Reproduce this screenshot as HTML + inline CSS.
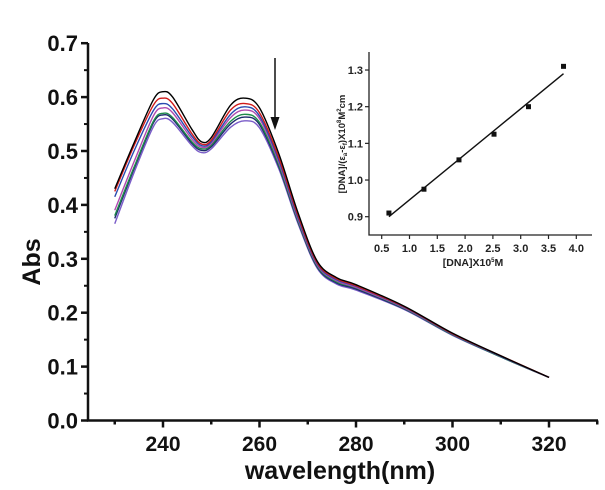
<!DOCTYPE html>
<html><head><meta charset="utf-8"><style>
html,body{margin:0;padding:0;background:#fff;}
svg{display:block;font-family:"Liberation Sans",Arial,sans-serif;}
</style></head><body>
<svg id="chart" width="605" height="490" viewBox="0 0 605 490" xmlns="http://www.w3.org/2000/svg"></svg>
<script>
// ---- main chart data ----
const wavelengths = [230,234,238,240,242,246,248,250,254,257,260,264,268,272,276,280,290,300,310,320];
const seriesBlack  = [0.43,0.515,0.595,0.61,0.6,0.54,0.517,0.525,0.585,0.598,0.58,0.495,0.385,0.295,0.265,0.252,0.212,0.162,0.12,0.08];
const seriesRed    = [0.425,0.51,0.585,0.598,0.588,0.532,0.513,0.52,0.576,0.588,0.571,0.488,0.38,0.292,0.263,0.25,0.211,0.161,0.12,0.08];
const seriesBlue   = [0.415,0.5,0.575,0.588,0.578,0.527,0.51,0.517,0.568,0.582,0.565,0.483,0.376,0.29,0.261,0.249,0.21,0.16,0.119,0.08];
const seriesPink   = [0.39,0.48,0.565,0.58,0.571,0.522,0.507,0.514,0.562,0.576,0.56,0.479,0.373,0.288,0.259,0.247,0.209,0.16,0.119,0.08];
const seriesGreen  = [0.38,0.47,0.555,0.57,0.562,0.517,0.504,0.511,0.555,0.568,0.553,0.474,0.37,0.286,0.257,0.246,0.208,0.159,0.118,0.08];
const seriesNavy   = [0.375,0.467,0.552,0.567,0.559,0.514,0.501,0.508,0.55,0.563,0.549,0.471,0.368,0.284,0.255,0.244,0.207,0.159,0.118,0.08];
const seriesPurple = [0.365,0.46,0.545,0.56,0.553,0.51,0.497,0.504,0.544,0.556,0.543,0.467,0.365,0.282,0.253,0.242,0.206,0.158,0.118,0.08];
const xTicks = [240,260,280,300,320];
const yTicks = [0.0,0.1,0.2,0.3,0.4,0.5,0.6,0.7];
// ---- inset data ----
const insetX = [0.63,1.26,1.89,2.52,3.14,3.77];
const insetY = [0.91,0.975,1.055,1.125,1.2,1.31];
const insetFitX = [0.63,3.77];
const insetFitY = [0.90,1.29];
const insetXTicks = [0.5,1.0,1.5,2.0,2.5,3.0,3.5,4.0];
const insetYTicks = [0.9,1.0,1.1,1.2,1.3];

const NS="http://www.w3.org/2000/svg";
const svg=document.getElementById('chart');
function mk(tag,attrs,parent){const e=document.createElementNS(NS,tag);for(const k in attrs)e.setAttribute(k,attrs[k]);(parent||svg).appendChild(e);return e;}

const xs=l=>163+(l-240)*4.825;
const ys=v=>420.5-v*539;
const X0=88,X1=598,Y0=420.5,Y1=43;

function smooth(pts){let d=`M${pts[0][0]},${pts[0][1]}`;
 for(let i=0;i<pts.length-1;i++){const p0=pts[i-1]||pts[i],p1=pts[i],p2=pts[i+1],p3=pts[i+2]||p2;
  d+=` C${p1[0]+(p2[0]-p0[0])/6},${p1[1]+(p2[1]-p0[1])/6} ${p2[0]-(p3[0]-p1[0])/6},${p2[1]-(p3[1]-p1[1])/6} ${p2[0]},${p2[1]}`;}
 return d;}

// axes
const ax=mk('path',{d:`M${X0},${Y1} V${Y0} H${X1}`,fill:'none',stroke:'#111','stroke-width':2.5});


yTicks.forEach((v,i)=>{
 const y=ys(v);
 const t=mk('line',{x1:X0-7,x2:X0,y1:y,y2:y,stroke:'#111','stroke-width':2.5});
 
 
 if(i<yTicks.length-1){const m=mk('line',{x1:X0-4,x2:X0,y1:ys(v+0.05),y2:ys(v+0.05),stroke:'#111','stroke-width':2});
  
  }
 const lb=mk('text',{x:X0-10,y:y+8,'text-anchor':'end','font-size':22,'font-weight':'bold',fill:'#111'});
 lb.textContent=v.toFixed(1);
 
 
});
for(let l=230;l<=330;l+=10){
 const major=xTicks.includes(l);
 const t=mk('line',{x1:xs(l),x2:xs(l),y1:Y0,y2:Y0+(major?7:4),stroke:'#111','stroke-width':2.5});
 
 
}
xTicks.forEach(l=>{
 const lb=mk('text',{x:xs(l),y:451,'text-anchor':'middle','font-size':21,'font-weight':'bold',fill:'#111'});
 lb.textContent=l;
 
 
});
const xt=mk('text',{x:340,y:479,'text-anchor':'middle','font-size':25,'font-weight':'bold',fill:'#111'});
xt.textContent='wavelength(nm)';


const yt=mk('text',{x:0,y:0,transform:'translate(40,262) rotate(-90)','text-anchor':'middle','font-size':25,'font-weight':'bold',fill:'#111'});
yt.textContent='Abs';



// series
const series=[[seriesPurple,'#7a5cc8','series-violet'],[seriesNavy,'#1a2a6a','series-navy'],[seriesGreen,'#1f8a4a','series-green'],[seriesPink,'#b04ab0','series-magenta'],[seriesBlue,'#2a4ab0','series-blue'],[seriesRed,'#d01a1a','series-red'],[seriesBlack,'#000','series-black']];
series.forEach(([vals,col,name])=>{
 const pts=wavelengths.map((l,i)=>[xs(l),ys(vals[i])]);
 const p=mk('path',{d:smooth(pts),fill:'none',stroke:col,'stroke-width':1.4});
 
 
});

// arrow
const ar=mk('line',{x1:275,y1:58,x2:275,y2:120,stroke:'#111','stroke-width':1.5});


const ah=mk('path',{d:'M270.5,117 L279.5,117 L275,130 Z',fill:'#111'});



// inset
const ix=v=>381.7+(v-0.5)*55.6;
const iy=v=>216.7-(v-0.9)*366.7;
const IX0=369,IX1=592,IY0=235,IY1=52;
const iax=mk('path',{d:`M${IX0},${IY1} V${IY0} H${IX1}`,fill:'none',stroke:'#222','stroke-width':1.3});


insetYTicks.forEach(v=>{
 const t=mk('line',{x1:IX0-4,x2:IX0,y1:iy(v),y2:iy(v),stroke:'#222','stroke-width':1.2});
 
 
 const lb=mk('text',{x:IX0-6,y:iy(v)+4,'text-anchor':'end','font-size':11,'font-weight':'bold',fill:'#222'});
 lb.textContent=v.toFixed(1);
 
 
});
insetXTicks.forEach(v=>{
 const t=mk('line',{x1:ix(v),x2:ix(v),y1:IY0,y2:IY0+4,stroke:'#222','stroke-width':1.2});
 
 
 const lb=mk('text',{x:ix(v),y:IY0+17,'text-anchor':'middle','font-size':11,'font-weight':'bold',fill:'#222'});
 lb.textContent=v.toFixed(1);
 
 
});
const ixt=mk('text',{x:473,y:266,'text-anchor':'middle','font-size':10.5,'font-weight':'bold',fill:'#222'});
ixt.innerHTML='[DNA]X10<tspan font-size="6" dy="-4">5</tspan><tspan dy="4">M</tspan>';


const iyt=mk('text',{x:0,y:0,transform:'translate(345,144) rotate(-90)','text-anchor':'middle','font-size':9.5,'font-weight':'bold',fill:'#222'});
iyt.innerHTML='[DNA]/(ε<tspan font-size="6" dy="2">a</tspan><tspan dy="-2">-ε</tspan><tspan font-size="6" dy="2">f</tspan><tspan dy="-2">)X10</tspan><tspan font-size="6" dy="-4">8</tspan><tspan dy="4">M</tspan><tspan font-size="6" dy="-4">2</tspan><tspan dy="4">cm</tspan>';


const fit=mk('line',{x1:ix(insetFitX[0]),y1:iy(insetFitY[0]),x2:ix(insetFitX[1]),y2:iy(insetFitY[1]),stroke:'#111','stroke-width':1.4});


insetX.forEach((v,i)=>{
 const r=mk('rect',{x:ix(v)-2.5,y:iy(insetY[i])-2.5,width:5,height:5,fill:'#111'});
 
 
});
</script>
</body></html>
